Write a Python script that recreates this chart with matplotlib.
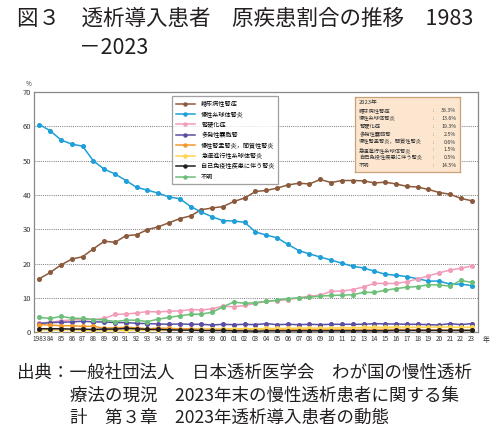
import numpy as np
import matplotlib
matplotlib.use("Agg")
import matplotlib.pyplot as plt
from matplotlib.lines import Line2D

plt.rcParams['font.family'] = ['Noto Sans CJK JP', 'DejaVu Sans']

years = list(range(1983, 2024))
year_labels = ['1983'] + [f"{y % 100:02d}" for y in years[1:]]

names = ['糖尿病性腎症', '慢性糸球体腎炎', '腎硬化症', '多発性嚢胞腎',
         '慢性腎盂腎炎，間質性腎炎', '急速進行性糸球体腎炎',
         '自己免疫性疾患に伴う腎炎', '不明']
colors = ['#8b5a3c', '#1e9fd9', '#f29cb9', '#5a4ea2',
          '#f39a2e', '#ffd44f', '#231f20', '#6cbf78']

diabetic = [15.6, 17.4, 19.6, 21.3, 22.0, 24.3, 26.5, 26.2, 28.1, 28.4,
            29.9, 30.7, 31.9, 33.1, 33.9, 35.7, 36.2, 36.6, 38.1, 39.1,
            41.0, 41.3, 42.0, 42.9, 43.4, 43.2, 44.5, 43.6, 44.2, 44.2,
            44.1, 43.5, 43.7, 43.2, 42.5, 42.3, 41.6, 40.7, 40.2, 39.0, 38.3]
glomerulo = [60.5, 58.7, 56.0, 54.8, 54.2, 49.9, 47.5, 46.1, 44.2, 42.2,
             41.4, 40.5, 39.4, 38.9, 36.6, 35.0, 33.6, 32.5, 32.4, 32.0,
             29.2, 28.3, 27.5, 25.6, 23.8, 22.8, 21.9, 21.0, 20.1, 19.2,
             18.7, 17.8, 16.9, 16.6, 16.2, 15.6, 14.9, 14.9, 14.0, 14.0, 13.6]
sclerosis = [2.6, 2.9, 3.3, 3.6, 3.8, 3.7, 4.0, 5.2, 5.3, 5.6,
             6.0, 5.9, 6.1, 6.2, 6.6, 6.5, 6.8, 7.6, 7.4, 7.8,
             8.4, 9.0, 9.2, 9.5, 10.0, 10.5, 10.8, 11.9, 12.0, 12.4,
             13.2, 14.2, 14.2, 14.2, 14.7, 15.5, 16.4, 17.3, 18.1, 18.6, 19.3]
polycystic = [2.5, 2.8, 2.9, 3.0, 3.2, 3.0, 3.0, 2.8, 2.8, 2.6,
              2.5, 2.4, 2.3, 2.4, 2.3, 2.3, 2.1, 2.3, 2.2, 2.3,
              2.2, 2.5, 2.2, 2.3, 2.2, 2.3, 2.2, 2.3, 2.3, 2.3,
              2.3, 2.5, 2.4, 2.4, 2.3, 2.3, 2.2, 2.1, 2.5, 2.2, 2.5]
pyelo = [2.2, 2.1, 1.9, 1.9, 1.7, 1.7, 1.2, 1.3, 1.4, 1.3,
         1.0, 1.2, 1.1, 1.0, 1.0, 0.9, 0.9, 0.9, 0.9, 0.9,
         0.9, 0.9, 0.9, 0.8, 0.8, 0.8, 0.8, 0.8, 0.8, 0.8,
         0.8, 0.8, 0.8, 0.8, 0.8, 0.7, 0.7, 0.7, 0.6, 0.7, 0.6]
rpgn = [0.7, 0.7, 0.6, 0.7, 0.5, 0.5, 0.5, 0.5, 0.5, 0.6,
        0.6, 0.6, 0.6, 0.7, 0.7, 0.8, 0.8, 0.9, 1.0, 1.0,
        1.0, 1.1, 1.1, 1.1, 1.2, 1.2, 1.2, 1.2, 1.3, 1.3,
        1.4, 1.4, 1.4, 1.5, 1.5, 1.4, 1.5, 1.5, 1.5, 1.4, 1.5]
autoimmune = [1.0, 1.0, 1.0, 0.9, 0.9, 0.8, 0.9, 0.9, 1.1, 1.0,
              0.8, 0.8, 0.7, 0.6, 0.6, 0.5, 0.5, 0.5, 0.4, 0.4,
              0.3, 0.4, 0.4, 0.4, 0.4, 0.4, 0.4, 0.4, 0.4, 0.4,
              0.4, 0.4, 0.4, 0.5, 0.5, 0.5, 0.5, 0.5, 0.5, 0.5, 0.5]
unknown = [4.3, 4.0, 4.6, 4.1, 4.0, 3.7, 3.6, 3.1, 3.5, 3.5,
           3.1, 3.8, 4.3, 4.8, 5.2, 5.3, 5.8, 7.4, 8.8, 8.4,
           8.6, 9.0, 9.3, 9.8, 10.0, 10.2, 10.5, 10.7, 10.8, 10.9,
           11.6, 11.6, 12.2, 12.7, 13.1, 13.3, 13.8, 13.8, 13.4, 15.1, 14.5]
series = [diabetic, glomerulo, sclerosis, polycystic, pyelo, rpgn, autoimmune, unknown]
values_2023 = ['38.3%', '13.6%', '19.3%', '2.5%', '0.6%', '1.5%', '0.5%', '14.5%']

fig = plt.figure(figsize=(5, 4.4), dpi=100)
fig.patch.set_facecolor('white')

# title
fig.text(0.034, 0.958, '図３　透析導入患者　原疾患割合の推移　1983',
         fontsize=15.5, va='center', ha='left', color='#231f20')
fig.text(0.158, 0.89, '－2023', fontsize=15.5, va='center', ha='left', color='#231f20')

ax = fig.add_axes([0.068, 0.245, 0.887, 0.546])
# small series first, big ones on top
order = [6, 5, 4, 3, 7, 2, 1, 0]
for i in order:
    ax.plot(years, series[i], color=colors[i], marker='o', markersize=2.6,
            linewidth=1.1, zorder=3 + i * 0.1)

ax.set_xlim(1982.5, 2023.55)
ax.set_ylim(0, 70)
ax.set_yticks(range(0, 71, 10))
ax.set_xticks(years)
ax.set_xticklabels(year_labels, fontsize=4.6, color='#333333')
ax.tick_params(axis='y', labelsize=5.5, length=0, pad=2, colors='#333333')
ax.tick_params(axis='x', length=0, pad=2)
for y in range(10, 70, 10):
    ax.axhline(y, color='#777777', linestyle=(0, (1, 1.2)), linewidth=0.7, zorder=1)
for sp in ax.spines.values():
    sp.set_color('#888888')
    sp.set_linewidth(0.9)

fig.text(0.057, 0.81, '%', fontsize=4.5, ha='center', va='center', color='#333333')
fig.text(0.966, 0.227, '年', fontsize=5, ha='left', va='center', color='#333333')

handles = [Line2D([0], [0], color=c, marker='o', markersize=2.2, linewidth=1.1) for c in colors]
leg = ax.legend(handles, names, loc='upper left', bbox_to_anchor=(0.311, 0.983),
                borderaxespad=0, fontsize=4.4, frameon=True, fancybox=False,
                edgecolor='#888888', handlelength=3.2, labelspacing=0.4,
                borderpad=0.6, handletextpad=1.0)
leg.get_frame().set_linewidth(0.9)
leg.set_zorder(10)

# 2023 value box
box = fig.add_axes([355 / 500, 1 - 172 / 440, 105 / 500, 75 / 440])
box.set_facecolor('#fce6cf')
box.set_xticks([])
box.set_yticks([])
for sp in box.spines.values():
    sp.set_color('#c9a27a')
    sp.set_linewidth(0.9)
box.set_xlim(0, 1)
box.set_ylim(0, 1)
box.text(0.04, 0.93, '2023年', fontsize=4.2, ha='left', va='center', color='#333333')
for k, (nm, v) in enumerate(zip(names, values_2023)):
    yy = 0.82 - k * 0.105
    box.text(0.04, yy, nm, fontsize=3.8, ha='left', va='center', color='#333333')
    box.text(0.745, yy, ':', fontsize=3.8, ha='center', va='center', color='#333333')
    box.text(0.965, yy, v, fontsize=3.8, ha='right', va='center', color='#333333')

# source
fig.text(0.034, 0.152, '出典：一般社団法人　日本透析医学会　わが国の慢性透析',
         fontsize=12.6, ha='left', va='center', color='#231f20')
fig.text(0.141, 0.1, '療法の現況　2023年末の慢性透析患者に関する集',
         fontsize=12.6, ha='left', va='center', color='#231f20')
fig.text(0.141, 0.05, '計　第３章　2023年透析導入患者の動態',
         fontsize=12.6, ha='left', va='center', color='#231f20')

fig.savefig('out.png', dpi=100)
